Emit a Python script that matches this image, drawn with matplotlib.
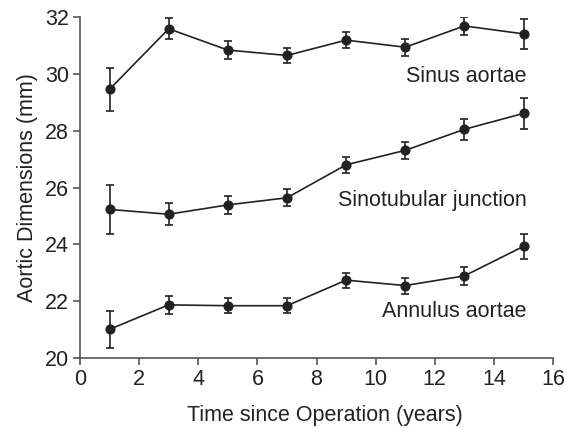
import matplotlib
matplotlib.use("Agg")
import matplotlib.pyplot as plt

years = [1, 3, 5, 7, 9, 11, 13, 15]
sinus = [29.46, 31.59, 30.84, 30.65, 31.19, 30.94, 31.69, 31.41]
sinus_err = [0.75, 0.37, 0.31, 0.28, 0.29, 0.30, 0.33, 0.52]
stj = [25.23, 25.06, 25.39, 25.64, 26.80, 27.31, 28.05, 28.61]
stj_err = [0.85, 0.39, 0.32, 0.30, 0.29, 0.31, 0.38, 0.55]
annulus = [21.01, 21.87, 21.84, 21.84, 22.74, 22.55, 22.89, 23.93]
annulus_err = [0.66, 0.31, 0.27, 0.27, 0.26, 0.28, 0.33, 0.44]
labels = ["Sinus aortae", "Sinotubular junction", "Annulus aortae"]
label_y = [29.92, 25.56, 21.62]

plt.rcParams['font.family'] = ['Liberation Sans', 'DejaVu Sans']
fig = plt.figure(figsize=(5.69, 4.28), dpi=100)
ax = fig.add_axes([0.1406, 0.1636, 0.972 - 0.1406, 0.960 - 0.1636])

col = '#222222'
for vals, errs in [(sinus, sinus_err), (stj, stj_err), (annulus, annulus_err)]:
    ax.errorbar(years, vals, yerr=errs, color=col, marker='o', markersize=6.3,
                linewidth=1.2, elinewidth=1.2, capsize=3, capthick=1.2)

for lab, ly in zip(labels, label_y):
    ax.text(15.1, ly, lab, ha='right', va='center', fontsize=15.5, color=col)

ax.set_xlim(0, 16)
ax.set_ylim(20, 32)
ax.set_xticks(range(0, 17, 2))
ax.set_yticks(range(20, 33, 2))
for s in ['top', 'right']:
    ax.spines[s].set_visible(False)
for s in ['left', 'bottom']:
    ax.spines[s].set_color('#555555')
    ax.spines[s].set_linewidth(1.2)
ax.tick_params(colors='#555555', labelcolor=col, labelsize=15.5, length=5, width=1.2, pad=3)
ax.set_xlabel('Time since Operation (years)', fontsize=15.5, color=col)
ax.xaxis.set_label_coords(0.518, -0.138)
ax.set_ylabel('Aortic Dimensions (mm)', fontsize=15.5, color=col, labelpad=5)

fig.savefig('out.png', dpi=100)
